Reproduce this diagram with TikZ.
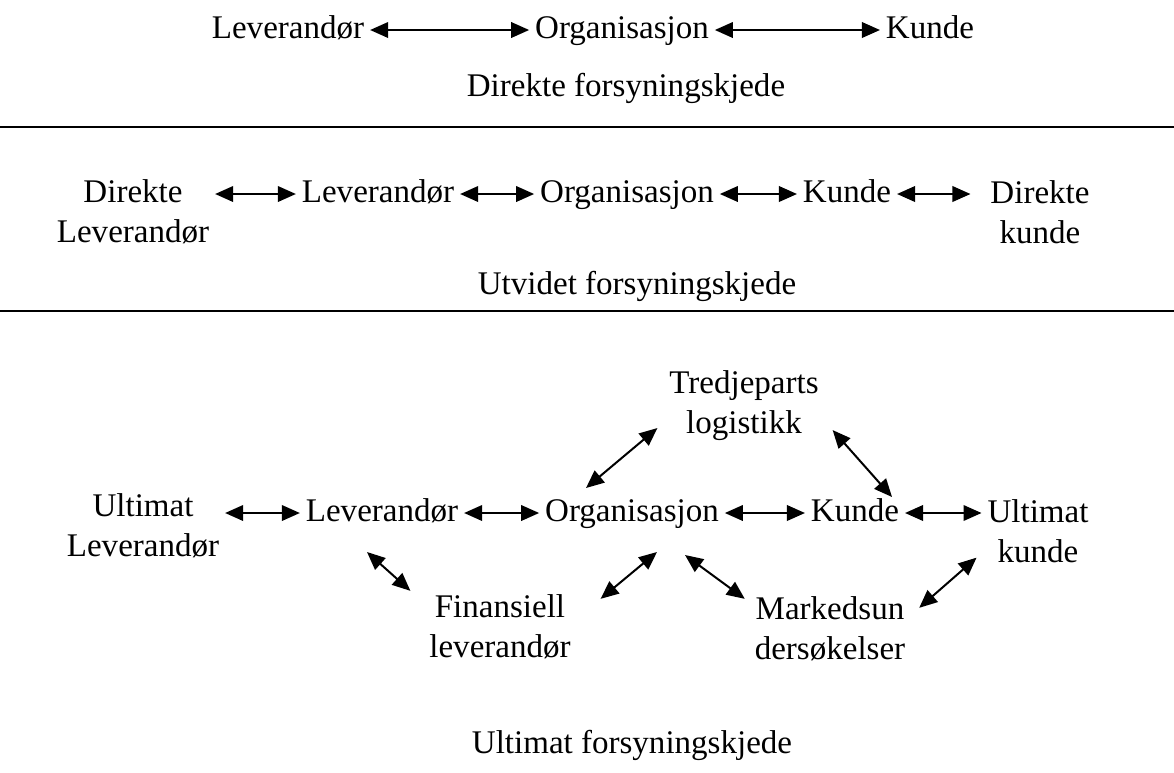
\documentclass[tikz,border=0pt]{standalone}
\usepackage{fontspec}
\setmainfont{Liberation Serif}
\usepackage{tikz}
\usetikzlibrary{arrows.meta,positioning}
\tikzstyle{biarrow} = [line width=0.04cm,<->,>={Triangle[length=0.36cm,width=0.31cm]}]
\tikzstyle{lbl} = [font=\fontsize{18.8}{22.8}\selectfont, inner sep=0pt, outer sep=0.12cm, text height=0.46cm, text depth=0.14cm]
\tikzstyle{lbltwo} = [font=\fontsize{18.8}{22.8}\selectfont, inner sep=0pt, outer sep=0.12cm, align=center]

\begin{document}
\begin{tikzpicture}[x=0.02cm,y=-0.02cm]
\useasboundingbox (0,0) rectangle (1174,772);
% direkte forsyningskjede
\node[lbl] (lev1) at (288,30) {Leverandør};
\node[lbl] (org1) at (622,30) {Organisasjon};
\node[lbl] (kun1) at (930,30) {Kunde};
\node[lbl] (dfk) at (626,88) {Direkte forsyningskjede};
\draw[biarrow] (lev1) -- (org1);
\draw[biarrow] (org1) -- (kun1);
\draw[line width=0.03cm] (0,127) -- (1174,127);
% utvidet forsyningskjede
\node[lbltwo] (dlev) at (133,212) {Direkte\\Leverandør};
\node[lbl] (lev2) at (378,194) {Leverandør};
\node[lbl] (org2) at (627,194) {Organisasjon};
\node[lbl] (kun2) at (847,194) {Kunde};
\node[lbltwo] (dkun) at (1040,212) {Direkte\\kunde};
\node[lbl] (ufk) at (637,286) {Utvidet forsyningskjede};
\draw[biarrow] (lev2 -| dlev.east) -- (lev2);
\draw[biarrow] (lev2) -- (org2);
\draw[biarrow] (org2) -- (kun2);
\draw[biarrow, shorten >=0.28cm] (kun2) -- (kun2 -| dkun.west);
\draw[line width=0.03cm] (0,311) -- (1174,311);
% ultimat forsyningskjede
\node[lbltwo] (ulev) at (143,526) {Ultimat\\Leverandør};
\node[lbl] (lev3) at (382,513) {Leverandør};
\node[lbl] (org3) at (632,513) {Organisasjon};
\node[lbl] (kun3) at (855,513) {Kunde};
\node[lbltwo] (ukun) at (1038,531) {Ultimat\\kunde};
\node[lbltwo] (tredj) at (744,406) {Tredjeparts\\logistikk};
\node[lbltwo] (fin) at (500,627) {Finansiell\\leverandør};
\node[lbltwo] (mark) at (830,629) {Markedsun\\dersøkelser};
\node[lbl] (ufk2) at (632,745) {Ultimat forsyningskjede};
\draw[biarrow] (lev3 -| ulev.east) -- (lev3);
\draw[biarrow] (lev3) -- (org3);
\draw[biarrow] (org3) -- (kun3);
\draw[biarrow] (kun3) -- (kun3 -| ukun.west);
\draw[biarrow] ([shift={(-46,-4)}]org3.north) -- ([shift={(-6,-19)}]tredj.south west);
\draw[biarrow] ([shift={(8,-17)}]tredj.south east) -- ([shift={(-13,5)}]kun3.north east);
\draw[biarrow] ([shift={(-15,18)}]lev3.south) -- ([shift={(-13,2)}]fin.north west);
\draw[biarrow] ([shift={(24,10)}]fin.north east) -- ([shift={(25,18)}]org3.south);
\draw[biarrow] ([shift={(53,21)}]org3.south) -- ([shift={(-4,8)}]mark.north west);
\draw[biarrow] ([shift={(8,17)}]mark.north east) -- ([shift={(-5,-11)}]ukun.south west);
\end{tikzpicture}
\end{document}
